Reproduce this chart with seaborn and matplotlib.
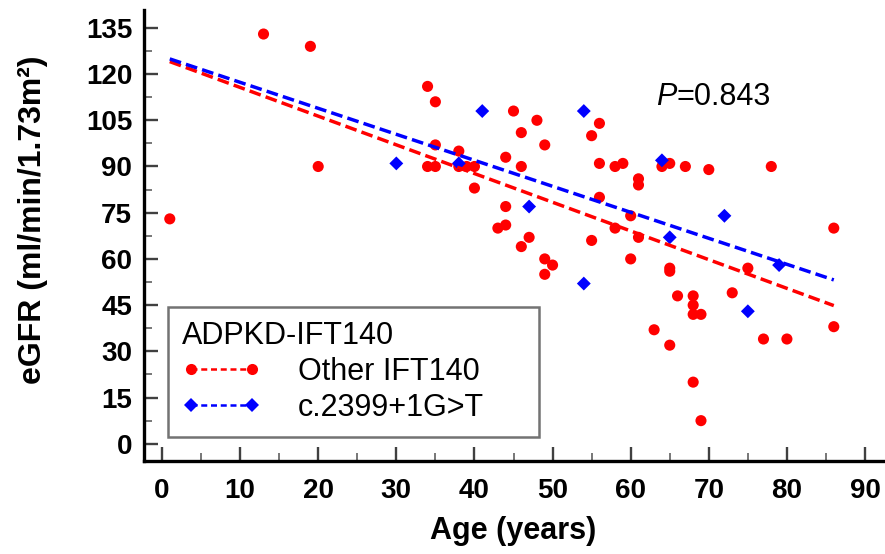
import numpy as np
import pandas as pd
import matplotlib
matplotlib.use("Agg")
import matplotlib.pyplot as plt
import seaborn as sns
from matplotlib.lines import Line2D

# ---- data ----
other_age = [1, 13, 19, 20, 34, 35, 35, 34, 35, 38, 38, 39, 40, 40, 44, 44, 43, 44,
             45, 46, 46, 46, 48, 49, 47, 49, 50, 49, 55, 56, 56, 58, 59, 61, 61, 56,
             60, 58, 61, 55, 60, 64, 65, 67, 70, 78, 86, 65, 65, 66, 68, 68, 68, 69,
             63, 65, 68, 69, 73, 75, 77, 80, 86]
other_egfr = [73, 133, 129, 90, 116, 111, 97, 90, 90, 95, 90, 90, 90, 83, 93, 77, 70, 71,
              108, 101, 90, 64, 105, 97, 67, 60, 58, 55, 100, 104, 91, 90, 91, 86, 84, 80,
              74, 70, 67, 66, 60, 90, 91, 90, 89, 90, 70, 57, 56, 48, 48, 45, 42, 42,
              37, 32, 20, 7.5, 49, 57, 34, 34, 38]
c2399_age = [30, 38, 41, 47, 54, 54, 64, 65, 72, 75, 79]
c2399_egfr = [91, 91, 108, 77, 108, 52, 92, 67, 74, 43, 58]

groups = ["Other IFT140", "c.2399+1G>T"]
legend_title = "ADPKD-IFT140"
p_label = "P"
p_text = "=0.843"
x_ticks = list(range(0, 91, 10))
y_ticks = list(range(0, 136, 15))

sns.set_theme(style="ticks")
plt.rcParams["font.family"] = ["Liberation Sans", "DejaVu Sans"]
plt.rcParams["text.color"] = "black"
plt.rcParams["axes.labelcolor"] = "black"
plt.rcParams["xtick.labelcolor"] = "black"
plt.rcParams["ytick.labelcolor"] = "black"

W, H = 885, 554
fig = plt.figure(figsize=(W / 100, H / 100), dpi=100)
ax = fig.add_axes([144 / W, 1 - 461 / H, 739 / W, 451 / H])

df = pd.concat([
    pd.DataFrame({"age": other_age, "egfr": other_egfr, "group": groups[0]}),
    pd.DataFrame({"age": c2399_age, "egfr": c2399_egfr, "group": groups[1]}),
], ignore_index=True)

colors = {groups[0]: "#ff0000", groups[1]: "#0000ff"}
markers = {groups[0]: "o", groups[1]: "D"}
sizes = {groups[0]: 64, groups[1]: 50}

x_lo, x_hi = df["age"].min(), df["age"].max()
dash = (0, (3.4, 1.5))
for g in groups:
    sub = df[df["group"] == g]
    sns.scatterplot(data=sub, x="age", y="egfr", color=colors[g], marker=markers[g],
                    s=sizes[g], edgecolor="none", linewidth=0, ax=ax, zorder=3,
                    legend=False)
for g in groups:
    sub = df[df["group"] == g]
    slope, intercept = np.polyfit(sub["age"], sub["egfr"], 1)
    xs = np.array([x_lo, x_hi])
    fit = pd.DataFrame({"age": xs, "egfr": intercept + slope * xs})
    sns.lineplot(data=fit, x="age", y="egfr", color=colors[g], linewidth=2.5,
                 linestyle=dash, ax=ax, zorder=4, legend=False)

ax.set_xlim(-2.3, 92.3)
ax.set_ylim(-5.6, 140.8)
ax.set_xticks(x_ticks)
ax.set_yticks(y_ticks)
ax.set_xticks(np.arange(5, 91, 10), minor=True)
ax.set_yticks(np.arange(7.5, 136, 15), minor=True)

for side in ["top", "right"]:
    ax.spines[side].set_visible(False)
for side in ["left", "bottom"]:
    ax.spines[side].set_linewidth(2.4)
    ax.spines[side].set_color("black")

ax.tick_params(which="major", direction="in", length=10, width=1.7, color="#404040",
               labelsize=20, labelcolor="black")
ax.tick_params(axis="y", which="major", pad=8.5)
ax.tick_params(axis="x", which="major", pad=12)
ax.tick_params(which="minor", direction="in", length=6, width=1.2, color="#606060")
for lab in ax.get_xticklabels() + ax.get_yticklabels():
    lab.set_fontweight("bold")

ax.set_xlabel("Age (years)", fontsize=22, fontweight="bold", labelpad=9, color="black")
ax.set_ylabel("eGFR (ml/min/1.73m²)", fontsize=23, fontweight="bold", color="black")
ax.yaxis.set_label_coords(-0.13, 0.535)

pt = ax.text(63.3, 112.5, p_label, style="italic", fontsize=22, va="center", ha="left",
             color="black")
ax.annotate(p_text, xy=(1, 0), xycoords=pt, fontsize=22, va="bottom", ha="left",
            color="black")

handles = [
    Line2D([0], [0], color=colors[g], linestyle=(0, (2.4, 1.5)), linewidth=1.8,
           marker=markers[g], markersize=8 if markers[g] == "o" else 7,
           markeredgewidth=0)
    for g in groups
]
leg = ax.legend(handles, groups, title=legend_title, title_fontsize=22, fontsize=22,
                loc="upper left", bbox_to_anchor=(0.0325, 0.062, 0.502, 0.279),
                mode="expand", alignment="left", frameon=True, fancybox=False,
                numpoints=2, handlelength=2.6, handletextpad=1.2, labelspacing=0.2,
                borderpad=0.45, borderaxespad=0, labelcolor="black")
leg.get_title().set_color("black")
leg.get_frame().set_edgecolor("#505050")
leg.get_frame().set_linewidth(1.8)

fig.savefig("out.png", dpi=100)
